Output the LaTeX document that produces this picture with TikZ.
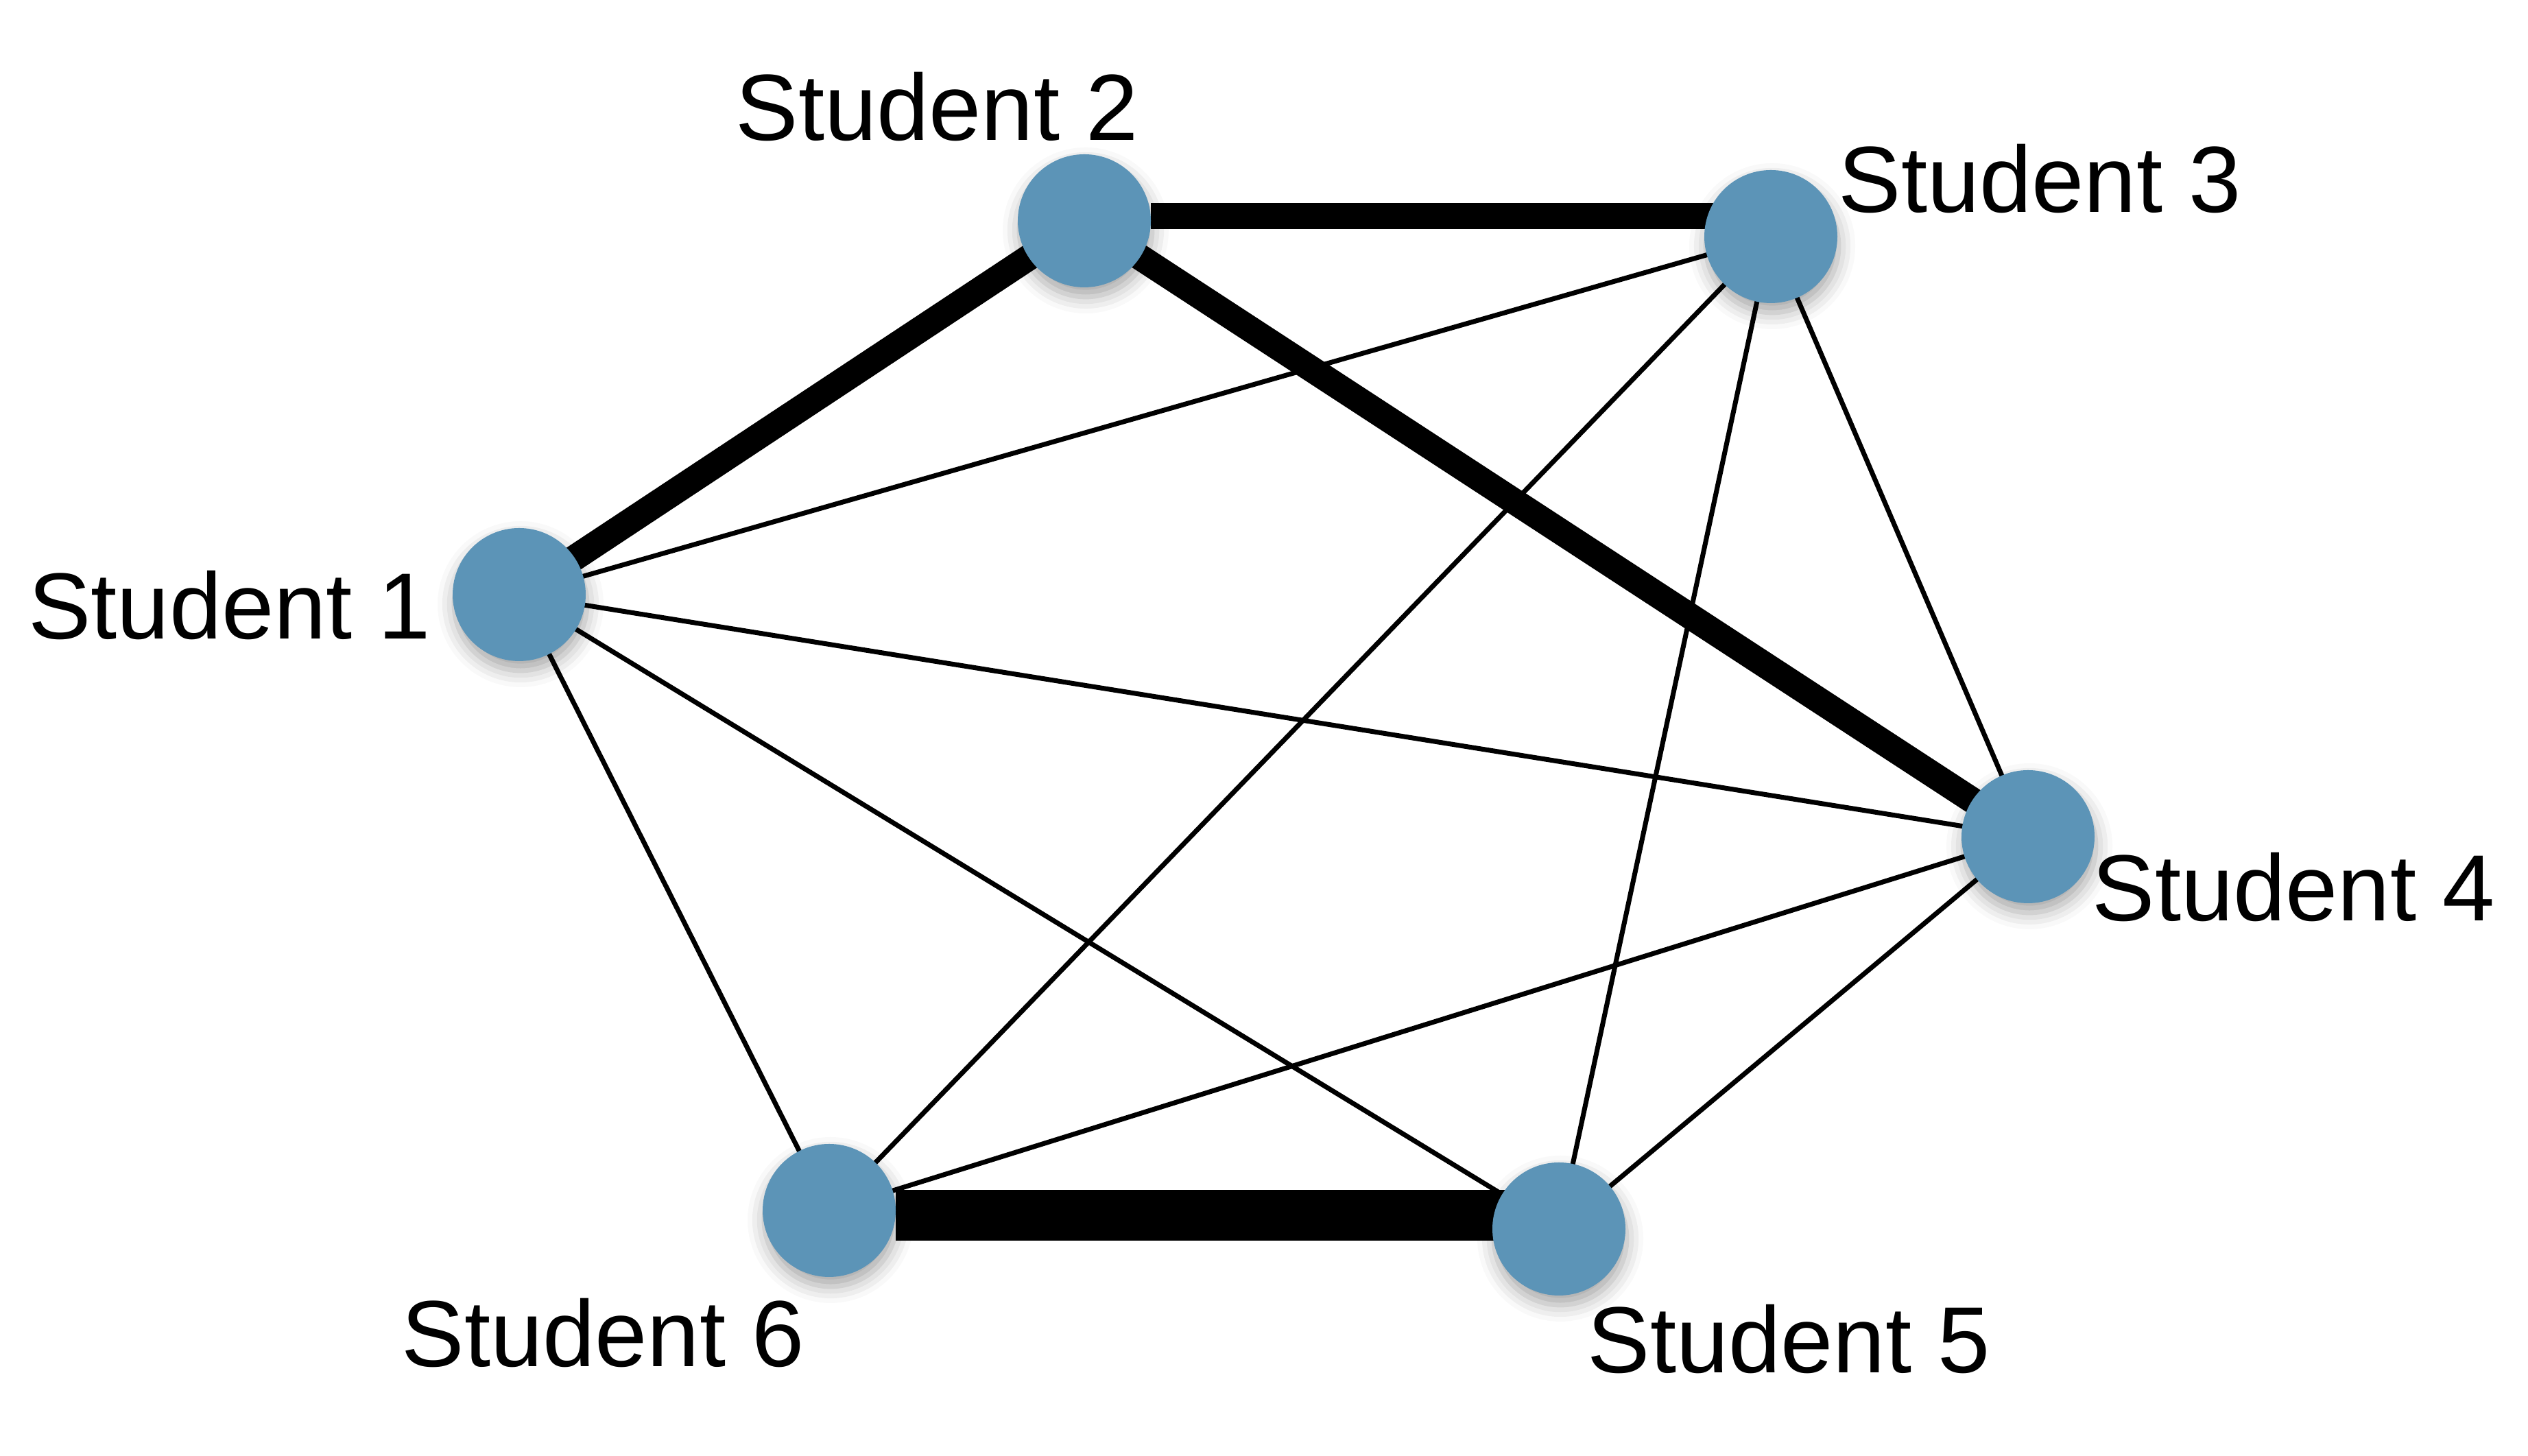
\documentclass[tikz,border=0pt]{standalone}
\usepackage{fontspec}
\setmainfont{Liberation Sans}
\usetikzlibrary{shadows.blur}
\pgfdeclarelayer{bg}
\pgfsetlayers{bg,main}
\definecolor{studentblue}{RGB}{92,148,183}

\begin{document}
\begin{tikzpicture}[
  student/.style={circle, fill=studentblue, minimum size=1.94cm, inner sep=0,
    blur shadow={shadow xshift=0.02cm, shadow yshift=-0.14cm, shadow blur radius=0.24cm, shadow opacity=35}},
  studentname/.style={inner sep=0, font=\fontsize{39}{46}\selectfont},
  tie/.style={black, line width=2pt},
  closetie/.style={black, line width=10.8pt},
  besttie/.style={black, line width=21pt}]
\useasboundingbox (0,0) rectangle (36.86,21.23);

\node[student] (s1) at (7.57,12.56) {};
\node[student] (s2) at (15.81,18.01) {};
\node[student] (s3) at (25.82,17.78) {};
\node[student] (s4) at (29.57,9.03) {};
\node[student] (s5) at (22.73,3.31) {};
\node[student] (s6) at (12.09,3.58) {};

\node[studentname, anchor=base east] (n1) at (6.29,11.91) {Student 1};
\node[studentname, anchor=base west] (n2) at (10.72,19.18) {Student 2};
\node[studentname, anchor=base west] (n3) at (26.80,18.13) {Student 3};
\node[studentname, anchor=base west] (n4) at (30.50,7.80) {Student 4};
\node[studentname, anchor=base west] (n5) at (23.14,1.21) {Student 5};
\node[studentname, anchor=base west] (n6) at (5.85,1.30) {Student 6};

\begin{pgfonlayer}{bg}
\foreach \a/\b in {s1/s3, s1/s4, s1/s5, s1/s6, s3/s4, s3/s5, s3/s6, s4/s5, s4/s6}
  \draw[tie] (\a.center) -- (\b.center);
\draw[closetie] (s1.center) -- (s2.center);
\draw[closetie] (s2.4) -- (s2.4 -| s3.center);
\draw[closetie] (s2.center) -- (s4.center);
\draw[besttie] (s6.-4) -- (s6.-4 -| s5.center);
\end{pgfonlayer}

\end{tikzpicture}
\end{document}
